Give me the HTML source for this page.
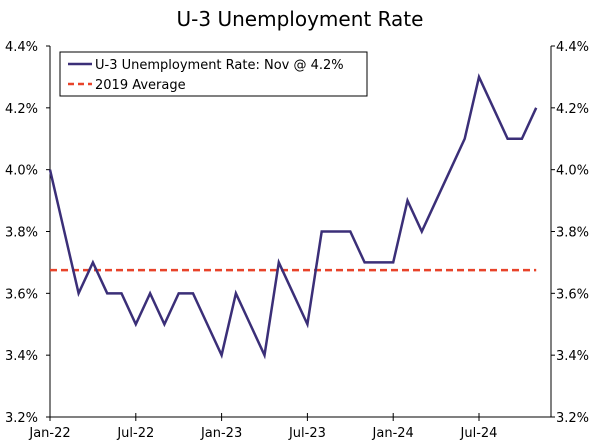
<!DOCTYPE html>
<html><head><meta charset="utf-8">
<style>
body{margin:0;background:#fff;}
svg text{font-family:"DejaVu Sans","Liberation Sans",sans-serif;fill:#000;}
</style></head>
<body>
<svg id="chart" width="600" height="441" viewBox="0 0 600 441" xmlns="http://www.w3.org/2000/svg">
<text x="300" y="26" text-anchor="middle" font-size="20">U-3 Unemployment Rate</text>
<g id="axes"></g>
<g id="marks"></g>
<g>
<rect x="60" y="52" width="307" height="44" fill="#fff" stroke="#000" stroke-width="1"/>
<line x1="68" y1="64" x2="92" y2="64" stroke="#3b2f78" stroke-width="2.5"/>
<text x="95" y="69" font-size="13">U-3 Unemployment Rate: Nov @ 4.2%</text>
<line x1="68" y1="84" x2="92" y2="84" stroke="#e8432a" stroke-width="2.5" stroke-dasharray="6,4"/>
<text x="95" y="89" font-size="13">2019 Average</text>
</g>
</svg>
<script>
const months = ["Jan-22","Feb-22","Mar-22","Apr-22","May-22","Jun-22","Jul-22","Aug-22","Sep-22","Oct-22","Nov-22","Dec-22","Jan-23","Feb-23","Mar-23","Apr-23","May-23","Jun-23","Jul-23","Aug-23","Sep-23","Oct-23","Nov-23","Dec-23","Jan-24","Feb-24","Mar-24","Apr-24","May-24","Jun-24","Jul-24","Aug-24","Sep-24","Oct-24","Nov-24"];
const rates = [4.0,3.8,3.6,3.7,3.6,3.6,3.5,3.6,3.5,3.6,3.6,3.5,3.4,3.6,3.5,3.4,3.7,3.6,3.5,3.8,3.8,3.8,3.7,3.7,3.7,3.9,3.8,3.9,4.0,4.1,4.3,4.2,4.1,4.1,4.2];
const avg2019 = 3.675;
const yTicks = [3.2,3.4,3.6,3.8,4.0,4.2,4.4];
const xTickLabels = ["Jan-22","Jul-22","Jan-23","Jul-23","Jan-24","Jul-24"];

const NS="http://www.w3.org/2000/svg";
const L=50,R=551,T=46,B=417;
const monthW=14.3;
function x(i){return L+i*monthW;}
function y(v){return B-(v-3.2)/(4.4-3.2)*(B-T);}
function mk(tag,attrs,parent){const e=document.createElementNS(NS,tag);for(const k in attrs)e.setAttribute(k,attrs[k]);parent.appendChild(e);return e;}
const axes=document.getElementById('axes'), marks=document.getElementById('marks');

let ax=mk('line',{x1:L,y1:T,x2:L,y2:B,stroke:'#000'},axes);


ax=mk('line',{x1:R,y1:T,x2:R,y2:B,stroke:'#000'},axes);


ax=mk('line',{x1:L,y1:B,x2:R,y2:B,stroke:'#000'},axes);



yTicks.forEach(v=>{
  const lbl=v.toFixed(1)+'%';
  let tk=mk('line',{x1:L-4,y1:y(v),x2:L,y2:y(v),stroke:'#000'},axes);
  
  
  tk=mk('line',{x1:R,y1:y(v),x2:R+4,y2:y(v),stroke:'#000'},axes);
  
  
  let t=mk('text',{x:L-12,y:y(v)+5,'text-anchor':'end','font-size':13},axes);t.textContent=lbl;
  
  
  t=mk('text',{x:R+5,y:y(v)+5,'text-anchor':'start','font-size':13},axes);t.textContent=lbl;
  
  
});
xTickLabels.forEach(lbl=>{
  const i=months.indexOf(lbl);
  let tk=mk('line',{x1:x(i),y1:B-4,x2:x(i),y2:B+4,stroke:'#000'},axes);
  
  
  let t=mk('text',{x:x(i),y:B+20,'text-anchor':'middle','font-size':13},axes);t.textContent=lbl;
  
  
});

let avg=mk('line',{x1:L,y1:y(avg2019),x2:x(months.length-1),y2:y(avg2019),stroke:'#e8432a','stroke-width':2.5,'stroke-dasharray':'7,4'},marks);


let ln=mk('polyline',{points:rates.map((v,i)=>x(i)+','+y(v)).join(' '),fill:'none',stroke:'#3b2f78','stroke-width':2.5,'stroke-linejoin':'miter'},marks);


</script>
</body></html>
